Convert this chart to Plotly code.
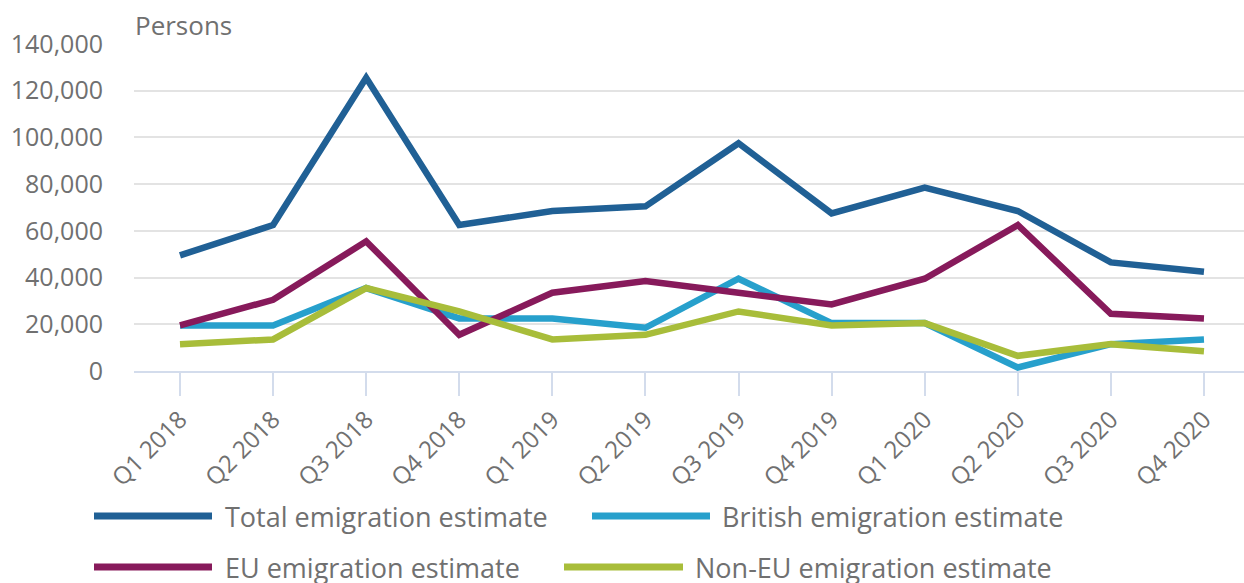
import plotly.graph_objects as go

quarters = ["Q1 2018", "Q2 2018", "Q3 2018", "Q4 2018",
            "Q1 2019", "Q2 2019", "Q3 2019", "Q4 2019",
            "Q1 2020", "Q2 2020", "Q3 2020", "Q4 2020"]

total = [49500, 62500, 125500, 62500, 68500, 70500, 97500, 67500, 78500, 68500, 46500, 42500]
british = [19500, 19500, 35500, 22500, 22500, 18500, 39500, 20500, 20500, 1500, 11500, 13500]
eu = [19500, 30500, 55500, 15500, 33500, 38500, 33500, 28500, 39500, 62500, 24500, 22500]
non_eu = [11500, 13500, 35500, 25500, 13500, 15500, 25500, 19500, 20500, 6500, 11500, 8500]

names = ["Total emigration estimate", "British emigration estimate",
         "EU emigration estimate", "Non-EU emigration estimate"]
colors = ["#206095", "#27a0cc", "#871a5b", "#a8bd3a"]
series = [total, british, eu, non_eu]

ytickvals = [0, 20000, 40000, 60000, 80000, 100000, 120000, 140000]
yticktext = ["0", "20,000", "40,000", "60,000", "80,000", "100,000", "120,000", "140,000"]

FONT = "Open Sans"
TXT = "#707070"

fig = go.Figure()
for name, color, vals in zip(names, colors, series):
    fig.add_trace(go.Scatter(x=quarters, y=vals, name=name, mode="lines",
                             line=dict(color=color, width=6.5), showlegend=False,
                             cliponaxis=False))

W, H = 1244, 583
L, T, B = 134, 44, 212
pw = W - L
ph = H - T - B

def px(x):
    return (x - L) / pw

def py(y):
    return (H - B - y) / ph

# manual legend (layout in pixels)
legend_pos = [(94, 212, 223, 516), (592, 710, 720, 516),
              (94, 212, 223, 567), (564, 683, 693, 567)]
shapes = []
annotations = []
for (x0, x1, xt, yy), name, color in zip(legend_pos, names, colors):
    shapes.append(dict(type="line", xref="paper", yref="paper",
                       x0=px(x0), x1=px(x1), y0=py(yy), y1=py(yy),
                       line=dict(color=color, width=7)))
    annotations.append(dict(text=name, xref="paper", yref="paper",
                            x=px(xt), y=py(yy), xanchor="left", yanchor="middle",
                            showarrow=False, font=dict(family=FONT, size=27, color=TXT)))

annotations.append(dict(text="Persons", xref="paper", yref="paper",
                        x=px(133), y=py(25), xanchor="left", yanchor="middle",
                        showarrow=False, font=dict(family=FONT, size=26, color=TXT)))

fig.update_layout(
    width=W, height=H,
    margin=dict(l=L, r=0, t=T, b=B),
    paper_bgcolor="white", plot_bgcolor="white",
    font=dict(family=FONT, size=24, color=TXT),
    shapes=shapes, annotations=annotations,
    showlegend=False,
    xaxis=dict(type="category", range=[-0.494, 11.43],
               showgrid=False, showline=True, linecolor="#d3dcec", linewidth=2,
               ticks="outside", ticklen=23, tickwidth=2, tickcolor="#d3dcec",
               tickangle=-45, tickfont=dict(family=FONT, size=24, color=TXT),
               zeroline=False),
    yaxis=dict(range=[0, 140000], tickvals=ytickvals, ticktext=yticktext,
               showgrid=True, gridcolor="#e3e3e3", gridwidth=2,
               zeroline=False, showline=False, ticks="",
               ticklabelstandoff=30,
               tickfont=dict(family=FONT, size=25, color=TXT)),
)

fig.write_html("out.html")
